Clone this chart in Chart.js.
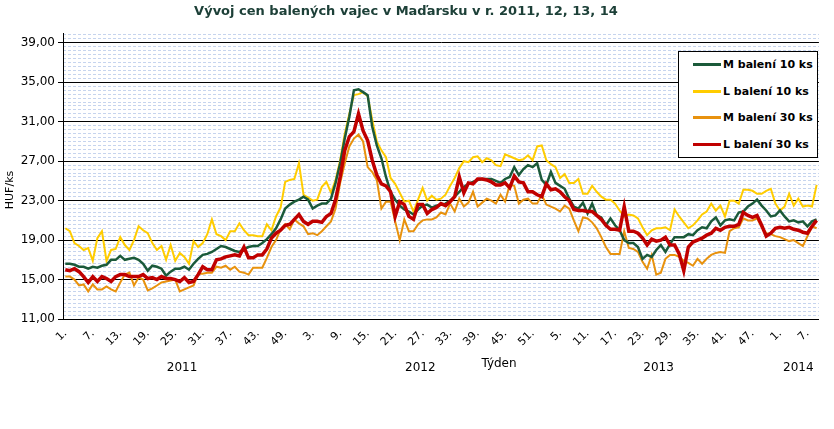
<!DOCTYPE html>
<html>
<head>
<meta charset="utf-8">
<script src="https://cdn.jsdelivr.net/npm/chart.js@4.4.1/dist/chart.umd.min.js"></script>
<style>
  body { margin: 0; background: #fff; }
  #wrap { position: relative; width: 834px; height: 429px; }
  #legend {
    position: absolute; left: 678px; top: 51px; width: 138px; height: 105px;
    border: 1px solid #000; background: #fff;
    font: bold 11px "DejaVu Sans", Verdana, sans-serif; color: #000;
  }
  #legend .row { position: absolute; left: 14px; height: 14px; line-height: 14px; white-space: nowrap; }
  #legend .sw { display: inline-block; width: 28px; height: 3px; vertical-align: middle; margin-right: 2px; position: relative; top: -1px; }
</style>
</head>
<body>
<div id="wrap">
  <canvas id="chart" width="834" height="429"></canvas>
  <div id="legend"></div>
</div>
<script>
const title = 'Vývoj cen balených vajec v Maďarsku v r. 2011, 12, 13, 14';
const years = ['2011', '2012', '2013', '2014'];
const weeksPerYear = [52, 52, 52, 9];
const yMajorTicks = [11, 15, 19, 23, 27, 31, 35, 39];

// M balení 10 ks
const mBaleni10 = [
  16.6,16.6,16.5,16.3,16.3,16.1,16.3,16.2,16.4,16.5,17.0,17.0,17.4,17.0,17.1,17.2,17.0,16.6,15.9,16.4,
  16.3,16.1,15.4,15.8,16.1,16.1,16.3,16.0,16.6,17.1,17.5,17.6,17.8,18.1,18.4,18.3,18.1,17.9,17.8,18.1,
  18.3,18.4,18.4,18.7,19.1,19.6,20.2,21.1,22.2,22.6,22.9,23.1,23.4,23.1,22.2,
  22.5,22.7,22.7,23.2,24.8,26.8,29.3,31.5,34.2,34.3,34.0,33.7,30.5,28.6,27.3,25.4,23.9,23.1,22.5,22.1,
  21.9,21.6,22.1,22.5,22.6,22.3,22.5,22.6,22.7,23.0,23.4,23.9,24.4,24.7,24.9,25.1,25.2,25.2,25.2,25.0,
  24.8,25.2,25.4,26.4,25.6,26.2,26.6,26.4,26.8,25.1,24.6,25.9,24.8,24.5,
  24.2,23.2,22.4,22.2,22.8,21.7,22.7,21.5,21.3,20.5,21.2,20.5,20.0,19.0,18.7,18.7,18.3,17.1,17.5,17.3,
  18.0,18.5,17.8,18.6,19.3,19.3,19.3,19.6,19.5,20.0,20.3,20.2,20.9,21.3,20.5,21.0,21.1,21.0,21.8,21.9,
  22.4,22.7,23.1,22.5,22.0,21.4,21.5,22.0,21.4,20.9,21.0,20.8,20.9,20.4,20.9,21.1
];
// L balení 10 ks
const lBaleni10 = [
  20.2,19.9,18.7,18.4,18.0,18.2,16.9,19.2,19.9,16.9,18.0,18.1,19.3,18.5,18.0,19.0,20.4,20.0,19.7,18.7,
  18.0,18.4,17.0,18.5,16.9,17.7,17.3,16.6,18.9,18.3,18.7,19.6,21.1,19.6,19.4,19.0,19.9,19.9,20.7,20.0,
  19.5,19.5,19.4,19.4,20.6,20.0,21.4,22.3,24.9,25.1,25.2,26.8,23.6,23.3,23.0,
  23.1,24.4,24.9,23.8,25.1,27.1,29.8,31.8,33.7,33.8,34.0,33.6,31.2,29.0,28.1,27.4,25.3,24.7,23.8,22.9,
  23.0,21.9,23.1,24.3,23.0,23.5,23.1,23.2,23.6,24.5,25.3,26.3,27.0,26.9,27.4,27.5,26.9,27.3,27.1,26.6,
  26.5,27.7,27.5,27.3,27.1,27.2,27.6,27.1,28.5,28.6,27.1,26.7,26.4,25.3,
  25.7,24.8,24.8,25.2,23.7,23.7,24.5,23.9,23.4,23.1,23.1,22.7,22.0,21.4,21.6,21.5,21.2,20.3,19.5,20.0,
  20.2,20.2,20.3,20.0,22.1,21.4,20.8,20.2,20.5,21.0,21.6,21.9,22.7,22.0,22.5,21.4,23.0,23.0,22.7,24.1,
  24.1,24.0,23.7,23.7,24.0,24.2,22.7,22.0,22.4,23.7,22.5,23.2,22.4,22.5,22.4,24.6
];
// M balení 30 ks
const mBaleni30 = [
  15.3,15.3,15.0,14.4,14.5,13.8,14.5,14.0,14.0,14.3,14.0,13.8,14.7,15.5,15.7,14.4,15.2,15.0,13.9,14.1,
  14.4,14.7,14.8,14.9,15.0,13.8,14.0,14.2,14.4,15.6,15.6,15.7,15.7,16.3,16.2,16.4,16.0,16.3,15.8,15.7,
  15.5,16.2,16.2,16.2,17.2,18.3,19.0,20.1,20.6,20.1,21.1,20.7,20.4,19.6,19.7,
  19.5,19.9,20.4,20.9,22.2,24.8,26.8,28.5,29.3,29.7,29.0,26.4,25.9,25.1,22.2,22.9,22.9,20.9,19.0,21.1,
  19.9,19.9,20.6,21.0,21.1,21.1,21.3,21.8,21.6,22.7,21.9,23.2,22.4,22.8,23.9,22.4,22.8,23.2,23.0,22.7,
  23.6,22.9,24.6,24.5,22.7,23.1,23.2,22.7,22.7,23.6,22.6,22.4,22.2,21.9,
  22.5,22.2,21.0,19.9,21.3,21.2,20.8,20.2,19.3,18.3,17.6,17.6,17.6,19.9,18.2,18.1,17.8,16.8,16.1,17.5,
  15.5,15.7,17.1,17.5,17.5,17.3,16.9,16.7,16.4,17.1,16.6,17.1,17.5,17.7,17.8,17.7,19.9,20.2,20.3,21.2,
  21.0,21.0,21.2,20.3,19.7,19.6,19.4,19.3,19.1,18.9,19.0,18.7,18.4,19.4,20.4,20.2
];
// L balení 30 ks
const lBaleni30 = [
  16.0,15.9,16.1,15.8,15.3,14.7,15.3,14.8,15.3,15.1,14.8,15.3,15.5,15.5,15.3,15.3,15.3,15.5,15.1,15.2,
  15.0,15.3,15.1,15.1,15.0,14.8,15.2,14.7,14.8,15.5,16.3,16.0,16.0,17.0,17.1,17.3,17.4,17.5,17.4,18.3,
  17.2,17.2,17.5,17.5,18.1,19.2,19.7,20.0,20.5,20.6,21.1,21.6,20.9,20.6,20.9,
  20.9,20.8,21.4,21.7,23.1,25.4,28.1,29.5,30.0,31.8,30.1,29.1,27.1,25.6,24.7,24.5,23.9,21.4,22.9,22.6,
  21.4,21.1,22.6,22.6,21.7,22.1,22.3,22.7,22.5,22.9,23.4,25.4,23.8,24.8,24.7,25.2,25.2,25.1,24.9,24.6,
  24.6,24.8,24.3,25.5,24.9,24.8,23.9,23.9,23.6,23.4,24.7,24.1,24.2,23.9,
  23.4,23.0,22.1,22.0,22.0,21.9,21.9,21.5,21.1,20.5,20.1,20.1,20.0,22.4,19.9,19.9,19.7,19.2,18.5,19.1,
  18.9,19.0,19.3,18.5,18.5,17.6,15.9,18.3,18.8,19.0,19.2,19.5,19.7,20.2,20.0,20.3,20.4,20.4,20.6,21.8,
  21.5,21.3,21.5,20.5,19.4,19.7,20.2,20.3,20.2,20.3,20.1,20.0,19.8,19.7,20.4,21.0
];

const weekLabels = [];
weeksPerYear.forEach(n => { for (let w = 1; w <= n; w++) weekLabels.push(w + '.'); });

const FONT = '"DejaVu Sans", Verdana, sans-serif';

const series = [
  { label: 'M balení 10 ks', data: mBaleni10, color: '#1b5a3a', width: 2.5, order: 1 },
  { label: 'L balení 10 ks', data: lBaleni10, color: '#ffcc00', width: 2, order: 2 },
  { label: 'M balení 30 ks', data: mBaleni30, color: '#e8920e', width: 2, order: 3 },
  { label: 'L balení 30 ks', data: lBaleni30, color: '#c00000', width: 3.5, order: 0 }
];

// legend box
const legend = document.getElementById('legend');
const rowTops = [6, 33, 59, 86];
series.forEach((s, i) => {
  const row = document.createElement('div');
  row.className = 'row';
  row.style.top = rowTops[i] + 'px';
  row.innerHTML = '<span class="sw" style="background:' + s.color + '"></span>' + s.label;
  legend.appendChild(row);
});

const extraText = {
  id: 'extraText',
  afterDraw(chart) {
    const ctx = chart.ctx;
    const x = chart.scales.x;
    ctx.save();
    ctx.textAlign = 'center';
    ctx.textBaseline = 'middle';
    ctx.fillStyle = '#000';
    ctx.font = '12px ' + FONT;
    let start = 0;
    years.forEach((y, k) => {
      const n = weeksPerYear[k];
      const mid = (x.getPixelForValue(start) + x.getPixelForValue(start + n - 1)) / 2;
      ctx.fillText(y, mid, 368);
      start += n;
    });
    ctx.fillText('Týden', 499, 364);
    ctx.font = 'bold 13px ' + FONT;
    ctx.fillStyle = '#1d4038';
    ctx.fillText(title, 406, 12);
    ctx.translate(10, 190);
    ctx.rotate(-Math.PI / 2);
    ctx.font = '11px ' + FONT;
    ctx.fillStyle = '#000';
    ctx.fillText('HUF/ks', 0, 0);
    ctx.restore();
  }
};

new Chart(document.getElementById('chart'), {
  type: 'line',
  data: {
    labels: weekLabels,
    datasets: series.map(s => ({
      label: s.label,
      data: s.data,
      borderColor: s.color,
      backgroundColor: s.color,
      borderWidth: s.width,
      pointRadius: 0,
      tension: 0,
      order: s.order
    }))
  },
  options: {
    responsive: false,
    animation: false,
    layout: { padding: { top: 33, right: 15, left: 0, bottom: 0 } },
    plugins: { legend: { display: false }, title: { display: false }, tooltip: { enabled: false } },
    scales: {
      x: {
        offset: true,
        grid: { drawOnChartArea: false, drawTicks: false },
        border: { color: '#000', width: 1 },
        ticks: {
          autoSkip: false,
          minRotation: 45,
          maxRotation: 45,
          padding: 8,
          color: '#000',
          font: { family: FONT, size: 11 },
          callback: (v, i) => (i % 6 === 0 ? weekLabels[i] : '')
        },
        afterFit: s => { s.height = 110; }
      },
      yMinor: {
        position: 'left',
        min: 11,
        max: 40,
        ticks: { display: false },
        grid: { color: '#c6d4ee', lineWidth: 1, drawTicks: false, borderDash: [3, 2] },
        border: { display: false, dash: [3, 2] },
        afterBuildTicks: s => {
          const t = [];
          for (let k = 1; k <= 72; k++) {
            if (k % 10 !== 0) t.push({ value: 11 + k * 0.4 });
          }
          s.ticks = t;
        },
        afterFit: s => { s.width = 0; }
      },
      y: {
        position: 'left',
        min: 11,
        max: 40,
        grid: { color: '#000', lineWidth: 1, tickLength: 5, tickColor: '#000' },
        border: { color: '#000', width: 1 },
        ticks: {
          padding: 3,
          color: '#000',
          font: { family: FONT, size: 12 },
          callback: v => v.toFixed(2).replace('.', ',')
        },
        afterBuildTicks: s => { s.ticks = yMajorTicks.map(v => ({ value: v })); },
        afterFit: s => { s.width = 63; }
      }
    }
  },
  plugins: [extraText]
});
</script>
</body>
</html>
